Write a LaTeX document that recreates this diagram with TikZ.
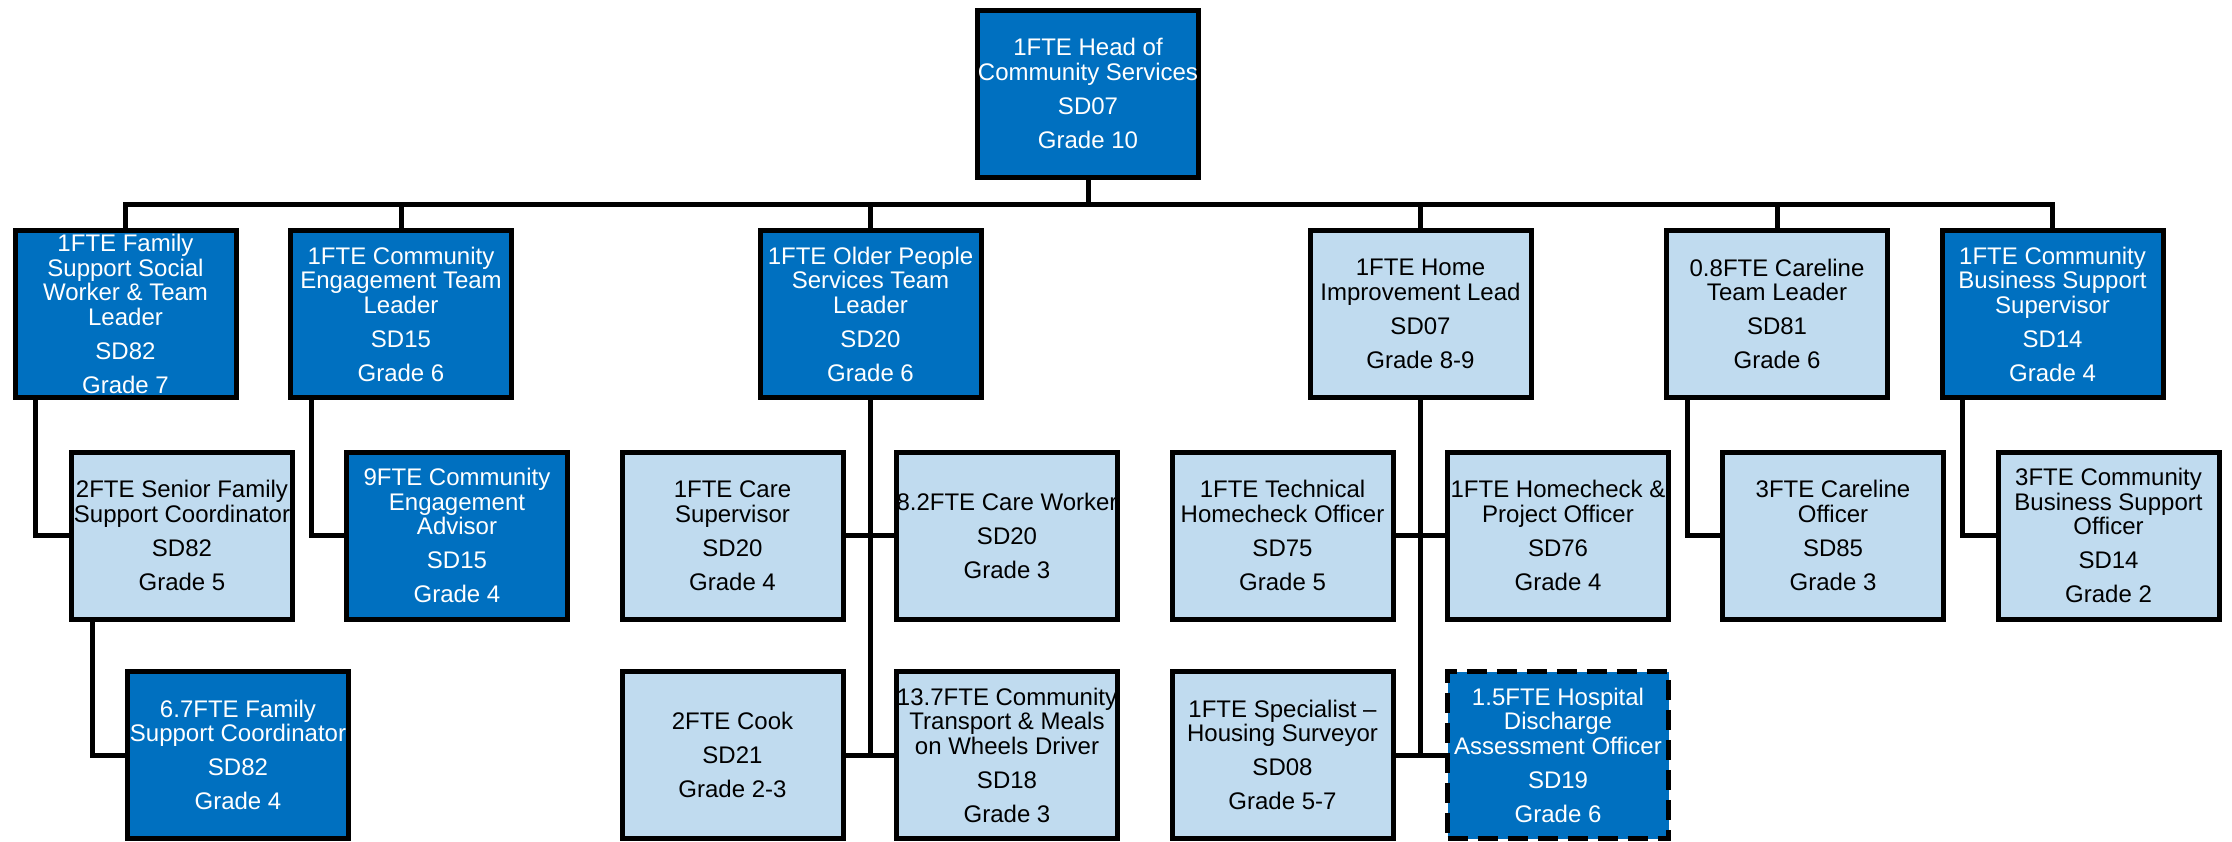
\documentclass[tikz,border=0pt]{standalone}
\usepackage{fontspec}
\setmainfont{Liberation Sans}
\definecolor{dblue}{HTML}{0070C0}
\definecolor{lblue}{HTML}{C0DBEF}
\begin{document}
\begin{tikzpicture}[x=1pt,y=-1pt,
  box/.style={draw=black, line width=5pt, minimum width=221pt, minimum height=167pt,
    inner sep=0pt, outer sep=0pt, align=center, font=\fontsize{24}{24.5}\selectfont},
  dark/.style={box, fill=dblue, text=white},
  light/.style={box, fill=lblue, text=black},
  conn/.style={line width=5pt, line join=miter}]
\useasboundingbox (0,0) rectangle (2232,841);
\coordinate (bus) at (0,204);
% connectors first
% level 0
\node[dark] (head) at (1088,93.5) {1FTE Head of\\Community Services\\[9.5pt]SD07\\[9.5pt]Grade 10};
% level 1
\node[dark]  (A) at (125.5,314) {1FTE Family\\Support Social\\Worker \& Team\\Leader\\[9.5pt]SD82\\[9.5pt]Grade 7};
\node[dark]  (B) at (401,314) {1FTE Community\\Engagement Team\\Leader\\[9.5pt]SD15\\[9.5pt]Grade 6};
\node[dark]  (C) at (870.5,314) {1FTE Older People\\Services Team\\Leader\\[9.5pt]SD20\\[9.5pt]Grade 6};
\node[light] (D) at (1420.5,314) {1FTE Home\\Improvement Lead\\[9.5pt]SD07\\[9.5pt]Grade 8-9};
\node[light] (E) at (1777,314) {0.8FTE Careline\\Team Leader\\[9.5pt]SD81\\[9.5pt]Grade 6};
\node[dark]  (F) at (2052.5,314) {1FTE Community\\Business Support\\Supervisor\\[9.5pt]SD14\\[9.5pt]Grade 4};
% level 2
\node[light] (A1) at (182,535.5) {2FTE Senior Family\\Support Coordinator\\[9.5pt]SD82\\[9.5pt]Grade 5};
\node[dark]  (B1) at (457,535.5) {9FTE Community\\Engagement\\Advisor\\[9.5pt]SD15\\[9.5pt]Grade 4};
\node[light] (C1) at (732.5,535.5) {1FTE Care\\Supervisor\\[9.5pt]SD20\\[9.5pt]Grade 4};
\node[light] (C2) at (1007,535.5) {8.2FTE Care Worker\\[9.5pt]SD20\\[9.5pt]Grade 3};
\node[light] (D1) at (1282.5,535.5) {1FTE Technical\\Homecheck Officer\\[9.5pt]SD75\\[9.5pt]Grade 5};
\node[light] (D2) at (1558,535.5) {1FTE Homecheck \&\\Project Officer\\[9.5pt]SD76\\[9.5pt]Grade 4};
\node[light] (E1) at (1833,535.5) {3FTE Careline\\Officer\\[9.5pt]SD85\\[9.5pt]Grade 3};
\node[light] (F1) at (2108.5,535.5) {3FTE Community\\Business Support\\Officer\\[9.5pt]SD14\\[9.5pt]Grade 2};
% level 3
\node[dark]  (A2) at (238,755) {6.7FTE Family\\Support Coordinator\\[9.5pt]SD82\\[9.5pt]Grade 4};
\node[light] (C3) at (732.5,755) {2FTE Cook\\[9.5pt]SD21\\[9.5pt]Grade 2-3};
\node[light] (C4) at (1007,755) {13.7FTE Community\\Transport \& Meals\\on Wheels Driver\\[9.5pt]SD18\\[9.5pt]Grade 3};
\node[light] (D3) at (1282.5,755) {1FTE Specialist --\\Housing Surveyor\\[9.5pt]SD08\\[9.5pt]Grade 5-7};
\node[dark, dash pattern=on 20pt off 10pt] (D4) at (1558,755) {1.5FTE Hospital\\Discharge\\Assessment Officer\\[9.5pt]SD19\\[9.5pt]Grade 6};
% connectors
\draw[conn] (head.south) -- (head.south |- bus);
\draw[conn] (A.north) -- (A.north |- bus) -- (F.north |- bus) -- (F.north);
\foreach \n in {B,C,D,E} \draw[conn] (\n.north) -- (\n.north |- bus);
\draw[conn] ([xshift=20.5pt]A.south west) |- (A1.west);
\draw[conn] ([xshift=20.5pt]A1.south west) |- (A2.west);
\draw[conn] ([xshift=20.5pt]B.south west) |- (B1.west);
\draw[conn] ([xshift=20.5pt]E.south west) |- (E1.west);
\draw[conn] ([xshift=20.5pt]F.south west) |- (F1.west);
\coordinate (cend) at (C.south |- C3.west);
\draw[conn] (C.south) -- (cend);
\draw[conn] (C1.east) -- (C2.west);
\draw[conn] (C3.east) -- (C4.west);
\coordinate (dend) at (D.south |- D3.west);
\draw[conn] (D.south) -- (dend);
\draw[conn] (D1.east) -- (D2.west);
\draw[conn] (D3.east) -- (D4.west);
\end{tikzpicture}
\end{document}
